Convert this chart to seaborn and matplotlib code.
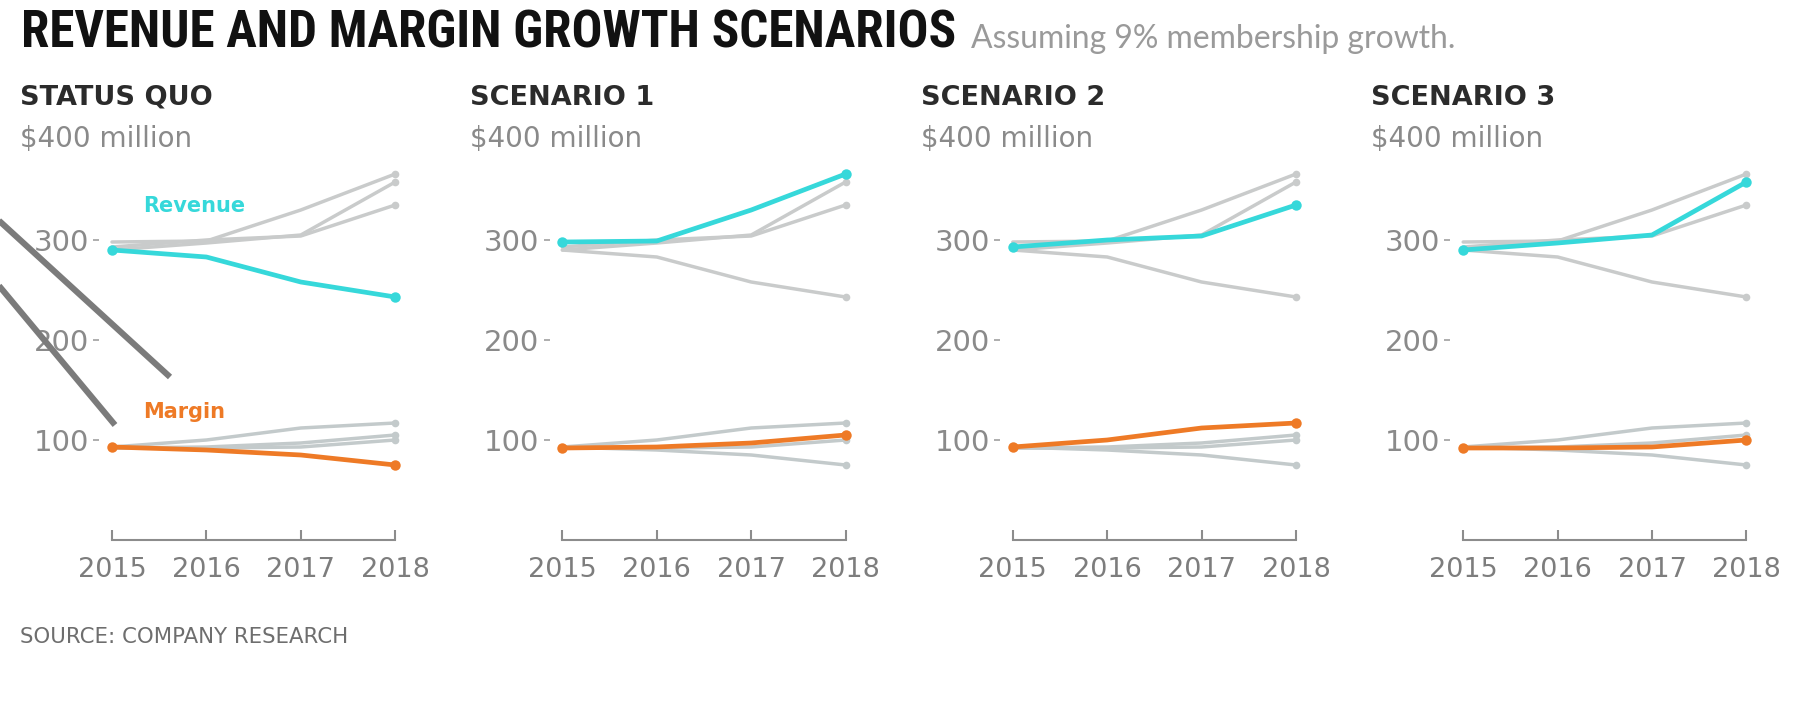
import matplotlib
matplotlib.use("Agg")
import matplotlib.pyplot as plt
import pandas as pd
import seaborn as sns
from matplotlib import font_manager as fm
from matplotlib.lines import Line2D

# ---- data (USD millions) ----
years = [2015, 2016, 2017, 2018]
scenarios = ["STATUS QUO", "SCENARIO 1", "SCENARIO 2", "SCENARIO 3"]
revenue_status_quo = [290, 283, 258, 243]
revenue_scenario_1 = [298, 299, 330, 366]
revenue_scenario_2 = [293, 300, 304, 335]
revenue_scenario_3 = [290, 297, 305, 358]
margin_status_quo = [93, 90, 85, 75]
margin_scenario_1 = [92, 93, 97, 105]
margin_scenario_2 = [93, 100, 112, 117]
margin_scenario_3 = [92, 92, 93, 100]
y_ticks = [100, 200, 300]
y_top_label = "$400 million"
title = "REVENUE AND MARGIN GROWTH SCENARIOS"
subtitle = "Assuming 9% membership growth."
source = "SOURCE: COMPANY RESEARCH"

revenue = [revenue_status_quo, revenue_scenario_1, revenue_scenario_2, revenue_scenario_3]
margin = [margin_status_quo, margin_scenario_1, margin_scenario_2, margin_scenario_3]

rows = []
for name, rev, mar in zip(scenarios, revenue, margin):
    for yr, r, m in zip(years, rev, mar):
        rows.append({"scenario": name, "metric": "Revenue", "year": yr, "value": r})
        rows.append({"scenario": name, "metric": "Margin", "year": yr, "value": m})
df = pd.DataFrame(rows)

# ---- style ----
sns.set_style("white")
plt.rcParams["font.family"] = ["DejaVu Sans"]

_fonts = fm.fontManager.ttflist
_names = {f.name for f in _fonts}


def condensed_font():
    for n in ("Roboto Condensed", "Liberation Sans Narrow", "DejaVu Sans Condensed"):
        if n in _names:
            return {"family": n}
    if any(f.name == "DejaVu Sans" and f.stretch == "condensed" for f in _fonts):
        return {"family": "DejaVu Sans", "stretch": "condensed"}
    return {"family": "DejaVu Sans"}


light_family = "Lato" if "Lato" in _names else "DejaVu Sans"

CYAN = "#36d8da"
ORANGE = "#ee7a26"
GREY_REV = "#c9cbcb"
GREY_MAR = "#c3cacb"
TEXT_GREY = "#7d7d7d"

W, H = 1808, 702
fig = plt.figure(figsize=(W / 100, H / 100), dpi=100)
fig.patch.set_facecolor("white")

px_per_year = 94.4
pad_years = 0.2
first_x2015 = 112
panel_step = 450.4
ax_w = (3 + 2 * pad_years) * px_per_year

axes = []
for i, name in enumerate(scenarios):
    left = first_x2015 + i * panel_step - pad_years * px_per_year
    ax = fig.add_axes([left / W, 162 / H, ax_w / W, 400 / H])
    axes.append(ax)

    for metric, grey, color in (("Revenue", GREY_REV, CYAN), ("Margin", GREY_MAR, ORANGE)):
        sub = df[df["metric"] == metric]
        for other in scenarios:
            if other == name:
                continue
            sns.lineplot(data=sub[sub["scenario"] == other], x="year", y="value",
                         color=grey, linewidth=2.5, marker="o", markersize=5.5,
                         markevery=[3], markeredgewidth=0, ax=ax, zorder=2,
                         solid_capstyle="round", solid_joinstyle="round")
        sns.lineplot(data=sub[sub["scenario"] == name], x="year", y="value",
                     color=color, linewidth=3.4, marker="o", markersize=7.5,
                     markevery=[0, 3], markeredgewidth=0, ax=ax, zorder=4,
                     solid_capstyle="round", solid_joinstyle="round")

    ax.set_xlim(2015 - pad_years, 2018 + pad_years)
    ax.set_ylim(0, 400)
    ax.set_xlabel("")
    ax.set_ylabel("")
    ax.set_xticks(years)
    ax.set_xticklabels([str(y) for y in years])
    ax.set_yticks(y_ticks)
    ax.set_yticklabels([str(v) for v in y_ticks])
    for s in ("top", "right", "left"):
        ax.spines[s].set_visible(False)
    ax.spines["bottom"].set_bounds(2015, 2018)
    ax.spines["bottom"].set_color("#8c8c8c")
    ax.spines["bottom"].set_linewidth(1.5)
    ax.tick_params(axis="x", bottom=True, direction="in", length=7, width=1.5,
                   color="#8c8c8c", labelsize=19.5, labelcolor=TEXT_GREY, pad=12)
    ax.tick_params(axis="y", left=True, direction="in", length=4, width=1.2,
                   color="#a0a0a0", labelsize=21, labelcolor="#8a8a8a", pad=3)
    ax.grid(False)
    ax.set_facecolor("none")

    # panel heading and unit line
    tx = (20 + i * panel_step) / W
    fig.text(tx, 1 - 98 / H, name, fontsize=19.5, fontweight="bold",
             color="#2b2b2b", va="center", ha="left")
    fig.text(tx, 1 - 139 / H, y_top_label, fontsize=20, color="#8a8a8a",
             va="center", ha="left")

# series labels in the first panel
axes[0].text(2015.33, 334, "Revenue", color=CYAN, fontsize=15, fontweight="bold",
             va="center", ha="left")
axes[0].text(2015.33, 128, "Margin", color=ORANGE, fontsize=15, fontweight="bold",
             va="center", ha="left")

# headline, subtitle, source
renderer = fig.canvas.get_renderer()


def fit_width(txt, target_px):
    w = txt.get_window_extent(renderer).width
    txt.set_fontsize(txt.get_fontsize() * target_px / w)


t = fig.text(21 / W, 1 - 48 / H, title, fontsize=34, fontweight="bold",
             color="#111111", va="baseline", ha="left", **condensed_font())
fit_width(t, 936)
st = fig.text(971 / W, 1 - 48 / H, subtitle, fontsize=17, color="#9a9a9a",
              va="baseline", ha="left", family=light_family)
fit_width(st, 484)
sc = fig.text(20 / W, 1 - 637 / H, source, fontsize=15, color="#6e6e6e",
              va="center", ha="left")
fit_width(sc, 327)

# grey leader strokes over the first panel
for (x0, y0), (x1, y1) in (((-5, 217), (170, 377)), ((-5, 281), (115, 425))):
    fig.add_artist(Line2D([x0 / W, x1 / W], [1 - y0 / H, 1 - y1 / H],
                          transform=fig.transFigure, color="#7b7b7b",
                          linewidth=4.4, solid_capstyle="butt", zorder=10))

fig.savefig("out.png", dpi=100, facecolor="white")
